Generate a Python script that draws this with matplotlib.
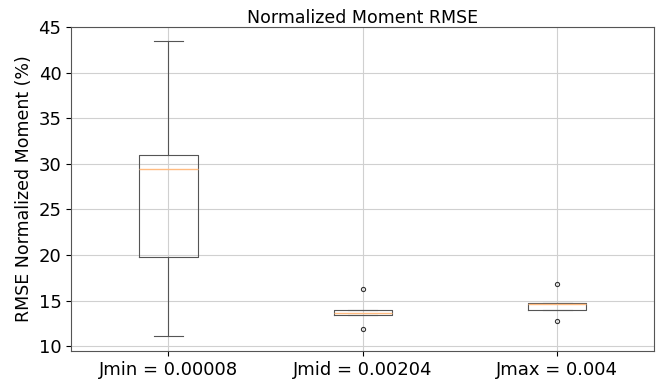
import matplotlib
matplotlib.use("Agg")
import matplotlib.pyplot as plt

# Box statistics
labels = ["Jmin = 0.00008", "Jmid = 0.00204", "Jmax = 0.004"]
whislo = [11.1, 13.45, 13.95]
q1 = [19.8, 13.45, 13.95]
med = [29.4, 13.65, 14.6]
q3 = [31.0, 14.0, 14.75]
whishi = [43.5, 14.0, 14.75]
fliers = [[], [16.3, 11.9], [16.8, 12.75]]

stats = []
for i in range(len(labels)):
    stats.append(dict(label=labels[i], whislo=whislo[i], q1=q1[i], med=med[i],
                      q3=q3[i], whishi=whishi[i], fliers=fliers[i]))

fig, ax = plt.subplots(figsize=(6.59, 3.79), dpi=100)

line_c = "#555555"
ax.bxp(stats, widths=0.3,
       boxprops=dict(color=line_c, linewidth=0.8),
       whiskerprops=dict(color=line_c, linewidth=0.8),
       capprops=dict(color=line_c, linewidth=0.8),
       medianprops=dict(color="#ffbb80", linewidth=1.0),
       flierprops=dict(marker="o", markersize=3, markerfacecolor="none",
                       markeredgecolor="#333333", markeredgewidth=0.8))

ax.set_ylim(9.5, 45)
ax.set_yticks([10, 15, 20, 25, 30, 35, 40, 45])
ax.grid(True, color="#d0d0d0", linewidth=0.8)
ax.set_axisbelow(True)
ax.tick_params(axis="both", labelsize=13)
ax.set_ylabel("RMSE Normalized Moment (%)", fontsize=12.5)
ax.set_title("Normalized Moment RMSE", fontsize=12.5, pad=3)

for spine in ax.spines.values():
    spine.set_color("#555555")
    spine.set_linewidth(0.8)

fig.subplots_adjust(left=0.108, right=0.993, top=0.929, bottom=0.074)
fig.savefig("out.png", dpi=100)
